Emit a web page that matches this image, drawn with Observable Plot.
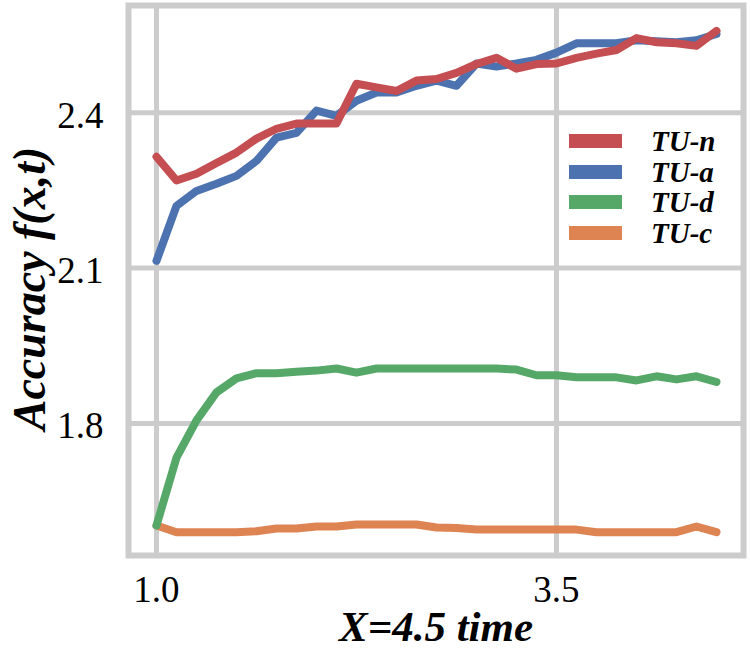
<!DOCTYPE html>
<html>
<head>
<meta charset="utf-8">
<script src="https://cdn.jsdelivr.net/npm/d3@7"></script>
<script src="https://cdn.jsdelivr.net/npm/@observablehq/plot@0.6"></script>
<style>
  html, body { margin: 0; padding: 0; background: #fff; }
  #wrap { position: relative; width: 750px; height: 649px; }
  #legend { position: absolute; left: 569px; top: 126px; font-family: "Liberation Serif", serif; font-weight: bold; font-style: italic; font-size: 29px; }
  .row { display: flex; align-items: center; height: 30.5px; }
  .sw { width: 53px; height: 14px; margin-right: 29px; }
  .lab { line-height: 30px; }
</style>
</head>
<body>
<div id="wrap"></div>
<script>
const times = [1.0,1.125,1.25,1.375,1.5,1.625,1.75,1.875,2.0,2.125,2.25,2.375,2.5,2.625,2.75,2.875,3.0,3.125,3.25,3.375,3.5,3.625,3.75,3.875,4.0,4.125,4.25,4.375,4.5];
const tuN = [2.315,2.269,2.282,2.303,2.323,2.350,2.369,2.379,2.379,2.379,2.456,2.449,2.442,2.462,2.465,2.477,2.494,2.506,2.485,2.494,2.495,2.506,2.514,2.521,2.544,2.536,2.534,2.529,2.558];
const tuA = [2.114,2.220,2.249,2.263,2.278,2.307,2.352,2.361,2.404,2.394,2.423,2.439,2.439,2.452,2.462,2.452,2.495,2.489,2.495,2.502,2.516,2.534,2.534,2.534,2.540,2.538,2.536,2.540,2.552];
const tuD = [1.603,1.734,1.806,1.860,1.887,1.897,1.897,1.900,1.902,1.906,1.898,1.906,1.906,1.906,1.906,1.906,1.906,1.906,1.904,1.893,1.893,1.889,1.889,1.889,1.883,1.891,1.885,1.891,1.880];
const tuC = [1.603,1.590,1.590,1.590,1.590,1.592,1.597,1.597,1.601,1.601,1.605,1.605,1.605,1.605,1.599,1.598,1.595,1.595,1.595,1.595,1.595,1.595,1.590,1.590,1.590,1.590,1.590,1.601,1.590];
const seriesNames = ["TU-n","TU-a","TU-d","TU-c"];
const seriesColors = ["#c44e52","#4c72b0","#55a868","#dd8452"];
const xTicks = [1.0, 3.5];
const yTicks = [1.8, 2.1, 2.4];
const xTitle = "X=4.5 time";
const yTitle = "Accuracy f(x,t)";

const seriesValues = [tuN, tuA, tuD, tuC];
const rows = [];
// draw order: orange, green, blue, red (red on top)
[3,2,1,0].forEach(k => {
  times.forEach((t, i) => rows.push({t, v: seriesValues[k][i], s: seriesNames[k]}));
});

const grid = "#cccccc";
const serif = "Liberation Serif";

const chart = Plot.plot({
  width: 750,
  height: 649,
  marginLeft: 128,
  marginRight: 7,
  marginTop: 5,
  marginBottom: 94,
  style: { fontFamily: serif, background: "#fff", color: "#000" },
  x: { domain: [0.825, 4.669] },
  y: { domain: [1.545, 2.607] },
  color: { domain: seriesNames, range: seriesColors },
  marks: [
    Plot.gridX(xTicks, { stroke: grid, strokeOpacity: 1, strokeWidth: 5 }),
    Plot.gridY(yTicks, { stroke: grid, strokeOpacity: 1, strokeWidth: 5 }),
    Plot.frame({ stroke: grid, strokeWidth: 6 }),
    Plot.axisX(xTicks, { tickSize: 0, tickPadding: 20, tickFormat: d3.format(".1f"), fontSize: 37, fontFamily: serif, label: null }),
    Plot.axisY(yTicks, { tickSize: 0, tickPadding: 25, tickFormat: d3.format(".1f"), fontSize: 37, fontFamily: serif, label: null, dy: 3 }),
    Plot.line(rows, { x: "t", y: "v", z: "s", stroke: "s", strokeWidth: 8, strokeLinejoin: "round", strokeLinecap: "round" }),
    Plot.text([xTitle], { frameAnchor: "bottom", text: d => d, dy: 85, lineAnchor: "bottom", textAnchor: "middle", fontSize: 43, fontWeight: "bold", fontStyle: "italic", fontFamily: serif }),
    Plot.text([yTitle], { frameAnchor: "left", text: d => d, rotate: -90, dx: -84, dy: 8, lineAnchor: "bottom", textAnchor: "middle", fontSize: 46, fontWeight: "bold", fontStyle: "italic", fontFamily: serif })
  ]
});

const wrap = document.getElementById("wrap");
wrap.appendChild(chart);

const legend = document.createElement("div");
legend.id = "legend";
seriesNames.forEach((name, i) => {
  const row = document.createElement("div");
  row.className = "row";
  const sw = document.createElement("div");
  sw.className = "sw";
  sw.style.background = seriesColors[i];
  const lab = document.createElement("span");
  lab.className = "lab";
  lab.textContent = name;
  row.appendChild(sw);
  row.appendChild(lab);
  legend.appendChild(row);
});
wrap.appendChild(legend);
</script>
</body>
</html>
